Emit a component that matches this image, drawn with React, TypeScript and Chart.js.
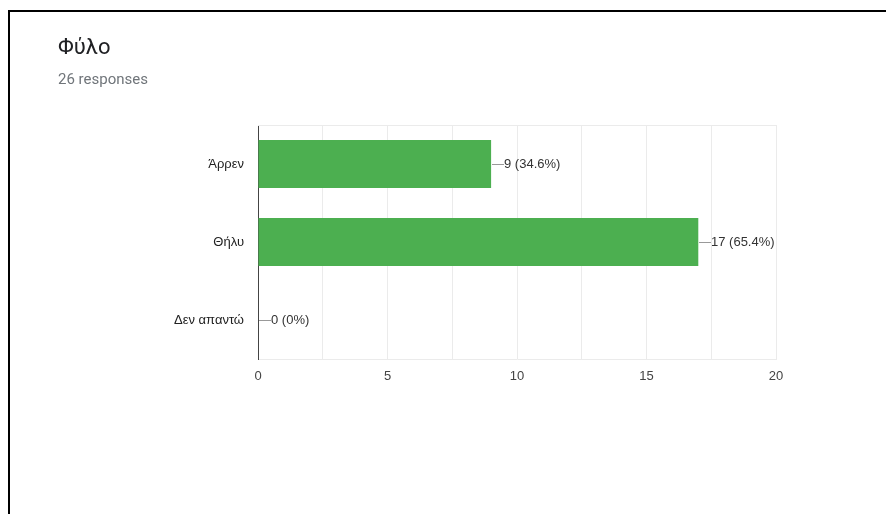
import React, { useEffect, useRef } from "react";
import { Chart, registerables } from "chart.js";

Chart.register(...registerables);

const categories = ["Άρρεν", "Θήλυ", "Δεν απαντώ"];
const counts = [9, 17, 0];
const xTickLabels = [0, 5, 10, 15, 20];
const title = "Φύλο";
const subtitle = "26 responses";

const FONT = "'Liberation Sans', Arial, sans-serif";

const total = counts.reduce((a, b) => a + b, 0);

const valueLabelPlugin = {
  id: "valueLabels",
  beforeDatasetsDraw(chart: any) {
    const { ctx, chartArea } = chart;
    ctx.save();
    ctx.strokeStyle = "#ebebeb";
    ctx.lineWidth = 1;
    ctx.beginPath();
    ctx.moveTo(chartArea.left, chartArea.top + 0.5);
    ctx.lineTo(chartArea.right, chartArea.top + 0.5);
    ctx.stroke();
    ctx.restore();
  },
  afterDatasetsDraw(chart: any) {
    const { ctx } = chart;
    const meta = chart.getDatasetMeta(0);
    ctx.save();
    meta.data.forEach((bar: any, i: number) => {
      const v = counts[i];
      const pct = Number(((v / total) * 100).toFixed(1));
      const x = Math.round(bar.x);
      const y = Math.round(bar.y) + 0.5;
      ctx.strokeStyle = "#999999";
      ctx.lineWidth = 1;
      ctx.beginPath();
      ctx.moveTo(x + 1, y);
      ctx.lineTo(x + 13, y);
      ctx.stroke();
      ctx.fillStyle = "#333333";
      ctx.font = `13px ${FONT}`;
      ctx.textAlign = "left";
      ctx.textBaseline = "middle";
      ctx.fillText(`${v} (${pct}%)`, x + 13, y);
    });
    ctx.restore();
  },
};

export default function App() {
  const ref = useRef<HTMLCanvasElement>(null);
  useEffect(() => {
    if (!ref.current) return;
    const chart = new Chart(ref.current, {
      type: "bar",
      data: {
        labels: categories,
        datasets: [
          {
            data: counts,
            backgroundColor: "#4caf50",
            borderWidth: 0,
            barPercentage: 0.615,
            categoryPercentage: 1,
          },
        ],
      },
      options: {
        indexAxis: "y",
        animation: false,
        responsive: false,
        maintainAspectRatio: false,
        layout: { padding: { left: 0, right: 110, top: 125, bottom: 0 } },
        plugins: {
          legend: { display: false },
          tooltip: { enabled: false },
        },
        scales: {
          x: {
            min: 0,
            max: 20,
            afterFit: (s: any) => {
              s.height = 155;
            },
            ticks: {
              stepSize: 2.5,
              autoSkip: false,
              maxRotation: 0,
              padding: 10,
              color: "#444444",
              font: { family: FONT, size: 13 },
              callback: (v: any) =>
                xTickLabels.includes(Number(v)) ? String(v) : "",
            },
            grid: { color: "#ebebeb", drawTicks: false },
            border: { color: "#ebebeb" },
          },
          y: {
            afterFit: (s: any) => {
              s.width = 258;
            },
            ticks: {
              padding: 14,
              color: "#222222",
              font: { family: FONT, size: 13 },
            },
            grid: { display: false, drawTicks: false },
            border: { color: "#444444", width: 1 },
          },
        },
      },
      plugins: [valueLabelPlugin],
    });
    return () => chart.destroy();
  }, []);

  return (
    <div style={{ position: "absolute", left: 0, top: 0, width: 886, height: 514, background: "#fff", overflow: "hidden" }}>
      <canvas
        ref={ref}
        width={886}
        height={514}
        style={{ position: "absolute", left: 0, top: 0, width: 886, height: 514 }}
      />
      <div
        style={{
          position: "absolute",
          left: 8,
          top: 10,
          width: 900,
          height: 600,
          borderTop: "2px solid #000",
          borderLeft: "2px solid #000",
          pointerEvents: "none",
        }}
      />
      <div
        style={{
          position: "absolute",
          left: 58,
          top: 33,
          fontFamily: "Roboto, sans-serif",
          fontSize: 22,
          lineHeight: "28px",
          color: "#202124",
        }}
      >
        {title}
      </div>
      <div
        style={{
          position: "absolute",
          left: 58,
          top: 69,
          fontFamily: "Roboto, sans-serif",
          fontSize: 15,
          lineHeight: "20px",
          color: "#70757a",
        }}
      >
        {subtitle}
      </div>
    </div>
  );
}
